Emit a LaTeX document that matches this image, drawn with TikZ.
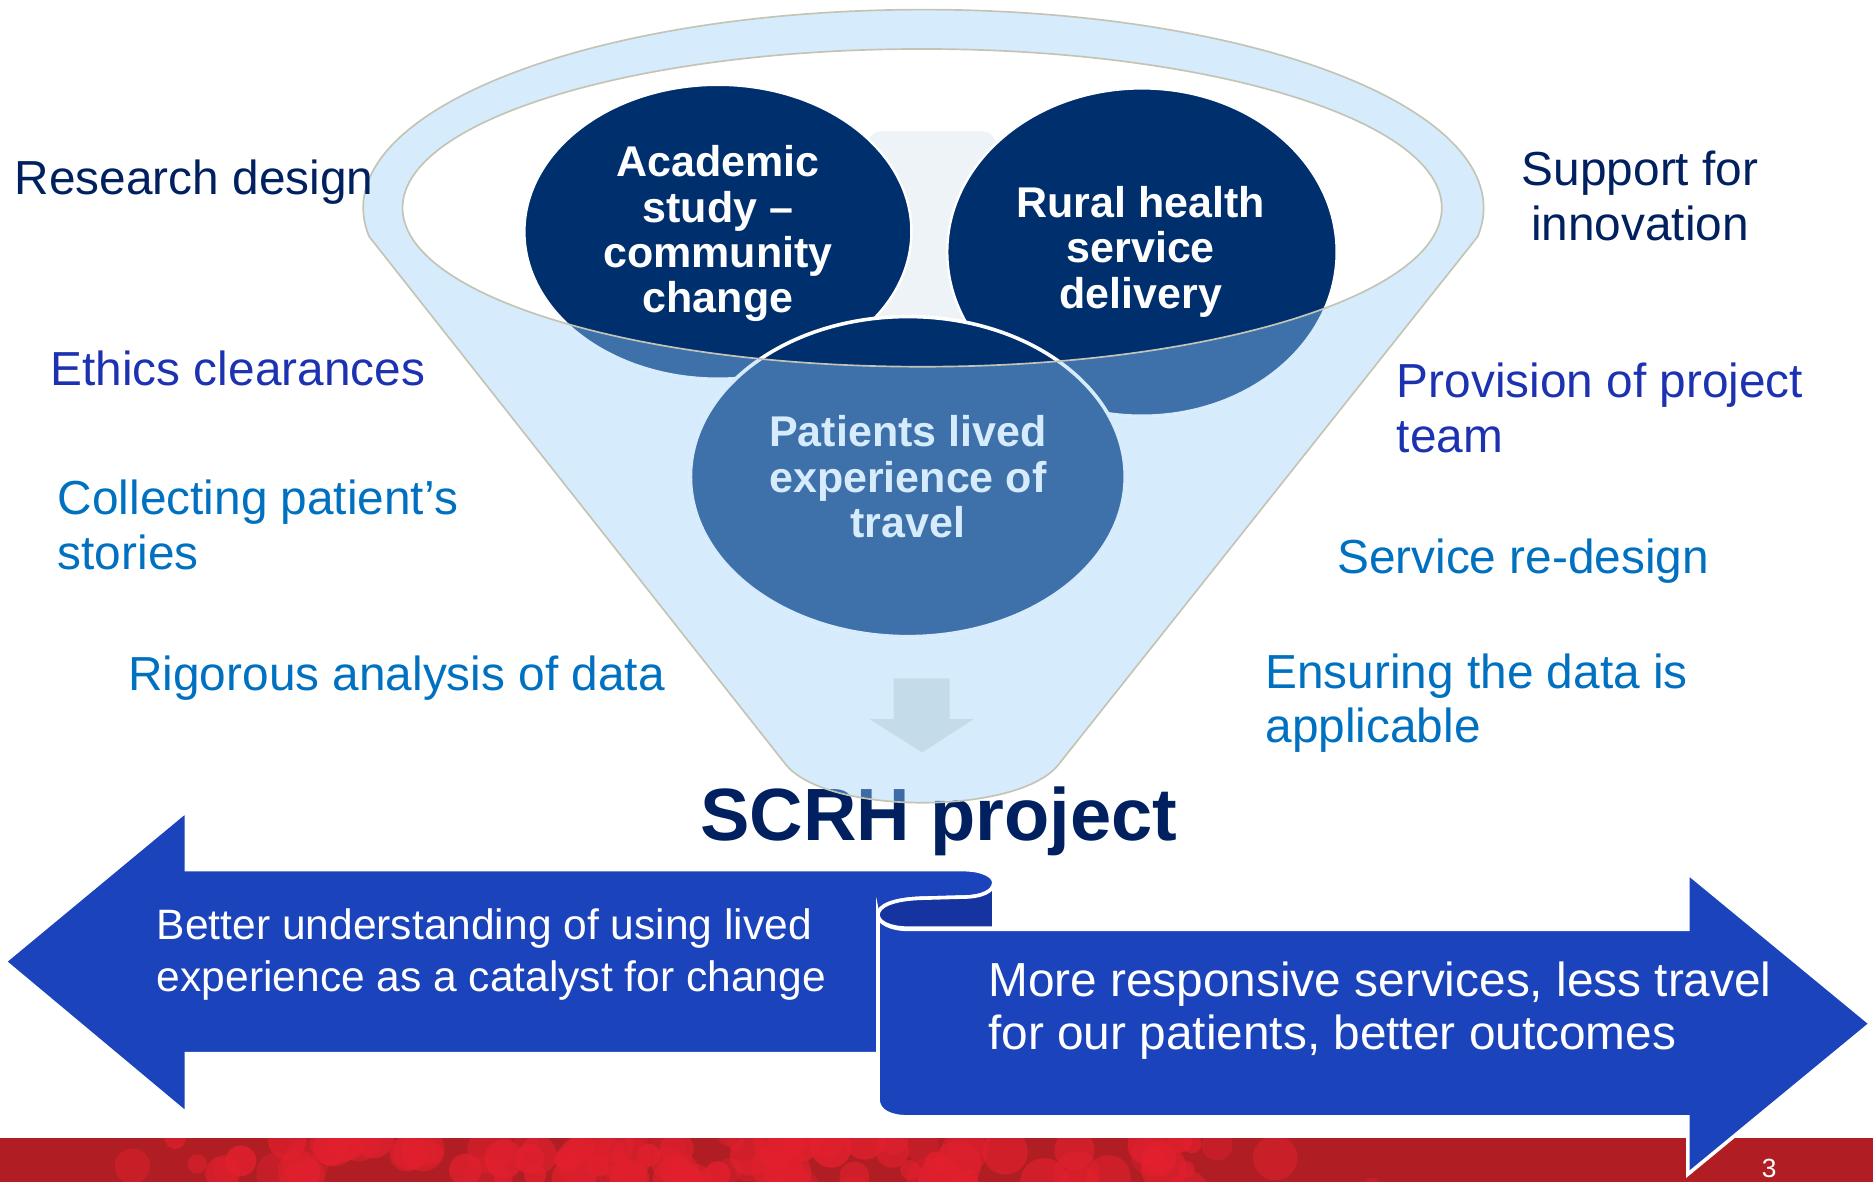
\documentclass[tikz,border=0pt]{standalone}
\usepackage{fontspec}
\setmainfont{Liberation Sans}
\usepackage{tikz}
\definecolor{funnelblue}{RGB}{214,236,252}
\definecolor{rimgray}{RGB}{196,196,182}
\definecolor{navyc}{RGB}{0,47,110}
\definecolor{midblue}{RGB}{62,113,170}
\definecolor{palebg}{RGB}{238,243,247}
\definecolor{arrowblue}{RGB}{27,67,187}
\definecolor{rolldark}{RGB}{21,52,160}
\definecolor{barred}{RGB}{176,30,36}
\definecolor{bubred}{RGB}{226,32,46}
\definecolor{downarr}{RGB}{196,220,234}
\definecolor{txtnavy}{RGB}{0,32,96}
\definecolor{txtroyal}{RGB}{28,50,176}
\definecolor{txtsky}{RGB}{0,112,192}
\definecolor{scrhfront}{RGB}{62,106,166}
\tikzset{
  lbl/.style={anchor=base west,inner sep=0pt,align=left,font=\fontsize{20}{23}\selectfont},
  circtxt/.style={anchor=base,inner sep=0pt,align=center,text=white,font=\fontsize{18}{19}\selectfont\bfseries},
  arrtxt/.style={anchor=base west,inner sep=0pt,align=left,text=white},
  rim/.style={draw=rimgray,line width=0.7pt},
  bigarrow/.style={fill=arrowblue,draw=white,line width=1.5pt}
}
\begin{document}
\begin{tikzpicture}[x=0.5pt,y=-0.5pt]
\useasboundingbox (0,0) rectangle (1568,989);
%red bar with bubbles
\fill[barred] (0,953) rectangle (1568,995);
\begin{scope}
\clip (0,953) rectangle (1409,995);
\pgfmathsetseed{11}
\foreach \i in {1,...,120}{
  \pgfmathsetmacro\bx{40+1150*(rnd+rnd)/2}
  \pgfmathsetmacro\by{952+rnd*45}
  \pgfmathsetmacro\br{7+rnd*14}
  \pgfmathsetmacro\bo{0.35+0.5*rnd}
  \fill[bubred,opacity=\bo] (\bx,\by) circle[radius=\br];
}
\end{scope}
%title
\node[anchor=base,inner sep=0pt,text=txtnavy,font=\fontsize{31}{31}\selectfont\bfseries] (scrh) at (786,704) {SCRH project};
%funnel
\fill[funnelblue] (657,639) -- (309,198) arc[start angle=171.7,end angle=368.3,x radius=469,y radius=166]
  -- (887,639) .. controls (855,683) and (690,683) .. (657,639) -- cycle;
\fill[white] (772,174) ellipse[x radius=435,y radius=133];
\fill[palebg,rounded corners=6] (726,110) rectangle (834,300);
%circles
\draw[fill=navyc,draw=white,line width=1pt] (601,194) ellipse[x radius=162,y radius=123];
\draw[fill=navyc,draw=white,line width=1pt] (956,211) ellipse[x radius=163,y radius=137];
\draw[fill=navyc,draw=white,line width=1.5pt] (760,399) ellipse[x radius=182,y radius=134];
%front of the funnel
\begin{scope}
\clip (337,174) arc[start angle=180,end angle=0,x radius=435,y radius=133] -- (1242,174)
  arc[start angle=0,end angle=8.3,x radius=469,y radius=166] -- (887,639)
  .. controls (855,683) and (690,683) .. (657,639) -- (309,198)
  arc[start angle=171.7,end angle=180,x radius=469,y radius=166] -- cycle;
\draw[fill=midblue,draw=funnelblue,line width=1pt] (601,194) ellipse[x radius=162,y radius=123];
\draw[fill=midblue,draw=funnelblue,line width=1pt] (956,211) ellipse[x radius=163,y radius=137];
\draw[fill=midblue,draw=funnelblue,line width=1.5pt] (760,399) ellipse[x radius=182,y radius=134];
\node[anchor=base,inner sep=0pt,text=scrhfront,font=\fontsize{31}{31}\selectfont\bfseries] (scrhback) at (786,704) {SCRH project};
\end{scope}
\fill[downarr] (748,568) -- (795,568) -- (795,602) -- (815,602) -- (772,630) -- (728,602) -- (748,602) -- cycle;
\draw[rim] (772,174) ellipse[x radius=435,y radius=133];
\draw[rim] (657,639) -- (309,198) arc[start angle=171.7,end angle=368.3,x radius=469,y radius=166]
  -- (887,639) .. controls (855,683) and (690,683) .. (657,639) -- cycle;
%circle texts
\node[circtxt] (academic) at (601,262) {Academic\\study –\\community\\change};
\node[circtxt] (rural) at (955,258) {Rural health\\service\\delivery};
\node[circtxt,text=funnelblue] (patients) at (760,450) {Patients lived\\experience of\\travel};
%labels
\node[lbl,text=txtnavy] (resdesign) at (12,163) {Research design};
\node[lbl,text=txtroyal] (ethics) at (42,323) {Ethics clearances};
\node[lbl,text=txtsky] (stories) at (48,477) {Collecting patient’s\\stories};
\node[lbl,text=txtsky] (rigour) at (107,578) {Rigorous analysis of data};
\node[lbl,text=txtnavy,anchor=base,align=center] (support) at (1373,201) {Support for\\innovation};
\node[lbl,text=txtroyal] (provision) at (1169,379) {Provision of project\\team};
\node[lbl,text=txtsky] (redesign) at (1119,480) {Service re-design};
\node[lbl,text=txtsky] (ensure) at (1059,622) {Ensuring the data is\\applicable};
%arrows
\draw[bigarrow] (4,805) -- (156,679) -- (156,728) -- (806,728) .. controls (822,728) and (832,733) .. (832,739)
  .. controls (832,746) and (822,751) .. (806,751) -- (770,752) .. controls (748,753) and (735,758) .. (735,766)
  -- (735,882) -- (156,882) -- (156,932) -- cycle;
\draw[fill=rolldark,draw=white,line width=1.5pt] (735,766) .. controls (735,758) and (748,753) .. (770,752) -- (806,751)
  .. controls (822,751) and (832,746) .. (832,739) -- (832,777) -- (760,777) .. controls (745,777) and (735,772) .. (735,766) -- cycle;
\draw[bigarrow] (735,766) .. controls (735,772) and (745,778) .. (760,778) -- (1413,778) -- (1413,731) -- (1566,857)
  -- (1413,983) -- (1413,935) -- (760,935) .. controls (745,935) and (735,930) .. (735,920) -- cycle;
\node[arrtxt,font=\fontsize{17.8}{21.75}\selectfont] (better) at (131,830) {Better understanding of using lived\\experience as a catalyst for change};
\node[arrtxt,font=\fontsize{20}{22.5}\selectfont] (responsive) at (827,879) {More responsive services, less travel\\for our patients, better outcomes};
\node[anchor=base,inner sep=0pt,text=white,font=\fontsize{11}{11}\selectfont] (pagenum) at (1481,986) {3};
\end{tikzpicture}
\end{document}
